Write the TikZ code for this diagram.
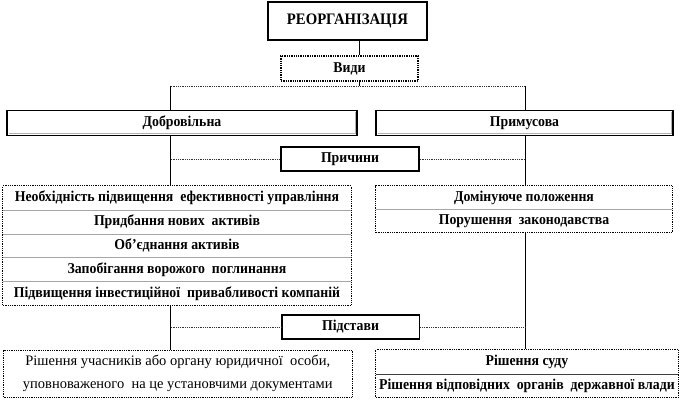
\documentclass[tikz,border=0pt]{standalone}
\usepackage{fontspec}
\setmainfont{Liberation Serif}
\newfontfamily\bfnarrow{Liberation Serif Bold}[FakeStretch=0.92]
\newfontfamily\rgnarrow{Liberation Serif}
\usetikzlibrary{fit,calc}
\tikzset{
  x=1pt, y=-1pt,
  lbl/.style={font=\bfnarrow\fontsize{15}{17}\selectfont, inner sep=0pt, align=center},
  topbox/.style={lbl, draw=black, line width=1.6pt, fill=white},
  dotbox/.style={lbl, draw=black, densely dotted, line width=1.3pt, fill=white},
  shadebox/.style={lbl, draw=black, line width=1.5pt, fill=white,
    path picture={\draw[gray!60, line width=1.2pt]
      ([xshift=1.5pt,yshift=1.6pt]path picture bounding box.south west) --
      ([xshift=-1.6pt,yshift=1.6pt]path picture bounding box.south east) --
      ([xshift=-1.6pt,yshift=-1.5pt]path picture bounding box.north east);}},
  rowbox/.style={lbl},
  grp/.style={draw=black, densely dotted, line width=0.8pt, inner sep=0pt},
  divline/.style={draw=gray!70, line width=1pt},
  conn/.style={draw=black, line width=0.7pt},
  dconn/.style={draw=black!80, densely dotted, line width=0.8pt},
}
\begin{document}
\begin{tikzpicture}
\useasboundingbox[fill=white] (0,0) rectangle (682,401);
% top
\node[topbox, font=\bfnarrow\fontsize{16}{18}\selectfont, minimum width=159pt, minimum height=38pt] (reorg) at (347.5,21) {РЕОРГАНІЗАЦІЯ};
\node[dotbox, minimum width=137pt, minimum height=25pt] (vydy) at (349.5,68.5) {Види};
\coordinate (vtop) at (359,86);
\coordinate (lv) at (170.7,86);
\coordinate (rv) at (525,86);
% kinds
\node[shadebox, minimum width=350pt, minimum height=24.5pt] (dobr) at (182,123) {Добровільна};
\node[shadebox, minimum width=297pt, minimum height=24.5pt] (prym) at (524.5,123) {Примусова};
\node[topbox, minimum width=138pt, minimum height=24.5pt] (prych) at (350,159) {Причини};
% left reasons
\node[rowbox, minimum width=348pt, minimum height=24pt] (l1) at (177,198) {Необхідність підвищення\ \ ефективності управління};
\node[rowbox, minimum width=348pt, minimum height=24pt] (l2) at (177,222) {Придбання нових\ \ активів};
\node[rowbox, minimum width=348pt, minimum height=23.5pt] (l3) at (177,245.75) {Об’єднання активів};
\node[rowbox, minimum width=348pt, minimum height=24pt] (l4) at (177,269.5) {Запобігання ворожого\ \ поглинання};
\node[rowbox, minimum width=348pt, minimum height=23.5pt] (l5) at (177,293.25) {Підвищення інвестиційної\ \ привабливості компаній};
\node[grp, fit=(l1)(l5)] (lgroup) {};
\foreach \a in {l1,l2,l3,l4} \draw[divline] (\a.south west) -- (\a.south east);
% right reasons
\node[rowbox, minimum width=296pt, minimum height=23pt] (r1) at (524,197.5) {Домінуюче положення};
\node[rowbox, minimum width=296pt, minimum height=23.5pt] (r2) at (524,220.75) {Порушення\ \ законодавства};
\node[grp, fit=(r1)(r2)] (rgroup) {};
\draw[divline] (r1.south west) -- (r1.south east);
% grounds
\node[topbox, minimum width=137.6pt, minimum height=24pt] (pidst) at (350.5,327) {Підстави};
\node[grp, lbl, font=\rgnarrow\fontsize{14.5}{23}\selectfont, minimum width=348.5pt, minimum height=47pt] (bl) at (177.75,373.5) {Рішення учасників або органу юридичної\ \ особи,\\уповноваженого\ \ на це установчими документами};
\node[rowbox, minimum width=302pt, minimum height=24.5pt] (b1) at (527,361.75) {Рішення суду};
\node[rowbox, minimum width=302pt, minimum height=23.5pt] (b2) at (527,385.75) {Рішення відповідних\ \ органів\ \ державної влади};
\node[grp, fit=(b1)(b2)] (bgroup) {};
\draw[draw=black!75, line width=1pt] (b1.south west) -- (b1.south east);
% connectors
\draw[conn] (reorg.south -| vtop) -- (vydy.north -| vtop);
\draw[conn] (vydy.south -| vtop) -- (vtop);
\draw[dconn] (lv) -- (rv);
\draw[conn] (lv) -- (lv |- dobr.north);
\draw[conn] (rv) -- (rv |- prym.north);
\draw[conn] (lv |- dobr.south) -- (lv |- lgroup.north);
\draw[conn] (rv |- prym.south) -- (rv |- rgroup.north);
\draw[dconn] (lv |- prych.west) -- (prych.west);
\draw[dconn] (prych.east) -- (rv |- prych.east);
\draw[conn] (lv |- lgroup.south) -- (lv |- bl.north);
\draw[conn] (rv |- rgroup.south) -- (rv |- bgroup.north);
\draw[dconn] (lv |- pidst.west) -- (pidst.west);
\draw[dconn] (pidst.east) -- (rv |- pidst.east);
\end{tikzpicture}
\end{document}
